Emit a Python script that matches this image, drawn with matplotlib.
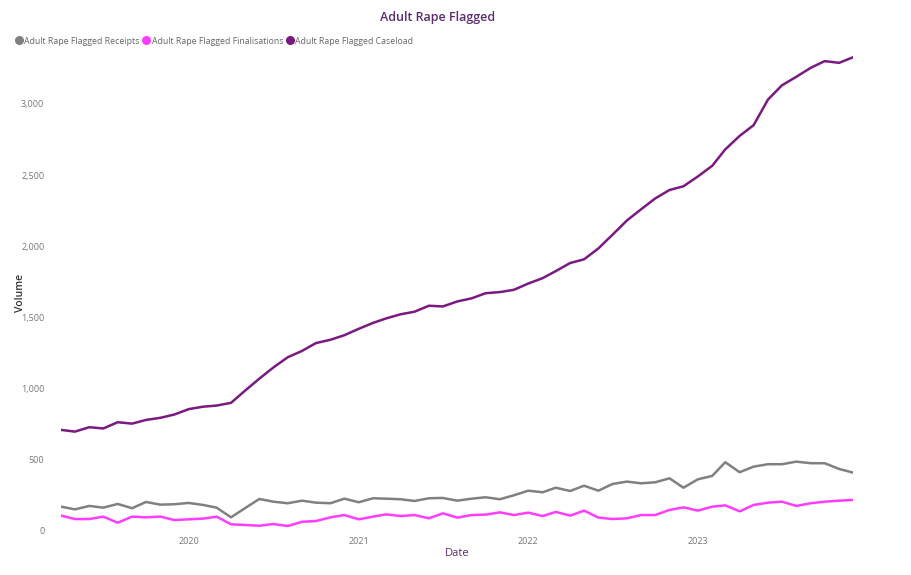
import matplotlib
matplotlib.use('Agg')
import matplotlib.pyplot as plt
import matplotlib.dates as mdates
from matplotlib.lines import Line2D
from matplotlib.ticker import FuncFormatter
import pandas as pd

plt.rcParams['font.family'] = ['Open Sans', 'DejaVu Sans']

dates = pd.date_range('2019-04-01', periods=57, freq='MS')

receipts = [171, 152, 176, 164, 190, 160, 204, 185, 188, 197, 183, 164, 96, 160,
            225, 206, 195, 213, 199, 195, 227, 202, 230, 227, 223, 211, 230, 232,
            213, 227, 237, 223, 251, 283, 272, 304, 281, 318, 283, 330, 347, 335,
            342, 370, 304, 363, 387, 483, 413, 452, 469, 469, 487, 476, 476, 436,
            410]

finalisations = [108, 84, 84, 101, 58, 101, 96, 101, 77, 82, 87, 101, 47, 42,
                 37, 49, 35, 65, 70, 96, 112, 82, 101, 117, 105, 112, 89, 124,
                 94, 112, 115, 131, 112, 129, 105, 134, 108, 143, 94, 84, 89, 112,
                 112, 148, 166, 143, 171, 180, 138, 183, 199, 206, 176, 195, 206,
                 213, 218]

caseload = [710, 698, 729, 720, 764, 754, 780, 795, 818, 856, 873, 881, 900, 985,
            1070, 1148, 1220, 1265, 1320, 1343, 1375, 1420, 1462, 1493, 1522, 1540,
            1582, 1577, 1612, 1634, 1670, 1678, 1694, 1738, 1776, 1825, 1882, 1908,
            1985, 2080, 2180, 2260, 2335, 2395, 2421, 2490, 2565, 2680, 2775, 2850,
            3030, 3130, 3190, 3253, 3300, 3288, 3327]

names = ['Adult Rape Flagged Receipts', 'Adult Rape Flagged Finalisations',
         'Adult Rape Flagged Caseload']
colors = ['#808080', '#FF3DFF', '#7A1A80']

fig = plt.figure(figsize=(9.11, 5.75), dpi=100)
ax = fig.add_axes([61 / 911, 1 - 531 / 575, (853 - 61) / 911, (531 - 54) / 575])

for vals, c in zip([receipts, finalisations, caseload], colors):
    ax.plot(dates, vals, color=c, lw=1.8, solid_joinstyle='round')

ax.set_xlim(dates[0], dates[-1])
ax.set_ylim(0, 3350)
ax.set_yticks([0, 500, 1000, 1500, 2000, 2500, 3000])
ax.yaxis.set_major_formatter(FuncFormatter(lambda v, p: f'{int(v):,}'))
ax.xaxis.set_major_locator(mdates.YearLocator())
ax.xaxis.set_major_formatter(mdates.DateFormatter('%Y'))

for s in ax.spines.values():
    s.set_visible(False)
ax.tick_params(length=0, labelsize=6.5, labelcolor='#777777')
ax.tick_params(axis='y', pad=12)
ax.tick_params(axis='x', pad=4)

ax.set_ylabel('Volume', fontsize=7.5, color='#333333', fontweight='semibold')
ax.yaxis.set_label_coords(-0.044, 0.5)
ax.set_xlabel('Date', fontsize=8, color='#5B2C6F', labelpad=2)

fig.text(438 / 911, 1 - 17 / 575, 'Adult Rape Flagged', ha='center', va='center',
         fontsize=9, color='#5B2C6F', fontweight='semibold')

handles = [Line2D([], [], marker='o', ls='', color=c, markersize=5.5) for c in colors]
fig.legend(handles, names, loc='center left', bbox_to_anchor=(10 / 911, 1 - 41 / 575),
           ncol=3, frameon=False, fontsize=6.3, labelcolor='#666666',
           handletextpad=0.1, columnspacing=0.3, handlelength=1.0, borderpad=0)

fig.savefig('out.png', dpi=100)
